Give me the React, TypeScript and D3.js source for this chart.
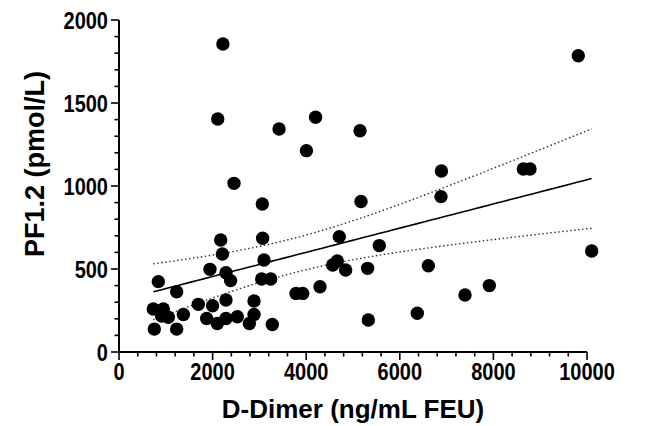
import React from "react";
import * as d3 from "d3";

const dDimer = [
  2220, 2110, 3420, 4200, 4005, 5150, 2457, 3062, 5171, 6890, 6880, 8640, 8782, 9814, 10100,
  4707, 5562, 4665, 4566, 4843, 5312, 6610, 3782, 3925, 4295, 7393, 7913, 5327, 6374,
  840, 1232, 733, 947, 911, 1054, 1375, 755, 1232, 1695, 2000, 1944, 2173, 2209, 2286, 2385,
  2286, 1873, 2100, 2286, 2528, 2785, 2885, 2885, 3276, 3069, 3098, 3049, 3241,
];
const pf12 = [
  1855, 1404, 1343, 1414, 1213, 1333, 1016, 892, 907, 1090, 936, 1102, 1102, 1785, 608,
  695, 641, 548, 524, 494, 504, 520, 353, 353, 393, 343, 400, 193, 233,
  424, 363, 259, 259, 217, 209, 226, 138, 138, 287, 279, 498, 675, 590, 478, 430,
  313, 202, 172, 202, 212, 172, 226, 307, 166, 685, 554, 440, 440,
];
const xTicks = [0, 2000, 4000, 6000, 8000, 10000];
const yTicks = [0, 500, 1000, 1500, 2000];
const xMinorStep = 400;
const yMinorStep = 100;
const xTitle = "D-Dimer (ng/mL FEU)";
const yTitle = "PF1.2 (pmol/L)";

const W = 659;
const H = 426;
const FONT = "'Liberation Sans', Arial, Helvetica, sans-serif";

export default function App() {
  const x = d3.scaleLinear().domain([0, 10000]).range([119, 587]);
  const y = d3.scaleLinear().domain([0, 2000]).range([352, 20]);

  const pts = dDimer.map((d, i) => [d, pf12[i]] as [number, number]);
  const n = pts.length;
  const mx = d3.mean(dDimer)!;
  const my = d3.mean(pf12)!;
  let sxx = 0, sxy = 0;
  pts.forEach(([a, b]) => { sxx += (a - mx) ** 2; sxy += (a - mx) * (b - my); });
  const slope = sxy / sxx;
  const intercept = my - slope * mx;
  let sse = 0;
  pts.forEach(([a, b]) => { sse += (b - (intercept + slope * a)) ** 2; });
  const s = Math.sqrt(sse / (n - 2));
  const tcrit = 2.003;
  const [x0, x1] = d3.extent(dDimer) as [number, number];
  const xs = d3.range(0, 61).map((i) => x0 + ((x1 - x0) * i) / 60);
  const fit = (v: number) => intercept + slope * v;
  const half = (v: number) => tcrit * s * Math.sqrt(1 / n + (v - mx) ** 2 / sxx);
  const line = d3.line<number[]>().x((d) => x(d[0])).y((d) => y(d[1]));
  const fitPath = line(xs.map((v) => [v, fit(v)]))!;
  const upPath = line(xs.map((v) => [v, fit(v) + half(v)]))!;
  const loPath = line(xs.map((v) => [v, fit(v) - half(v)]))!;

  const xMinor = d3.range(0, 10000 + 1, xMinorStep);
  const yMinor = d3.range(0, 2000 + 1, yMinorStep);
  const sy = 1.18;

  return (
    <svg width={W} height={H} style={{ position: "absolute", left: 0, top: 0, background: "#fff" }}>
      <rect width={W} height={H} fill="#fff" />
      <line x1={x(0)} x2={x(10000)} y1={y(0)} y2={y(0)} stroke="#000" strokeWidth={2} />
      <line x1={x(0)} x2={x(0)} y1={y(0)} y2={y(2000)} stroke="#000" strokeWidth={2} />
      {xMinor.map((v) => (
        <line key={"xm" + v} x1={x(v)} x2={x(v)} y1={y(0)} y2={y(0) + (v % 2000 === 0 ? 8 : 4.5)} stroke="#000" strokeWidth={1.6} />
      ))}
      {yMinor.map((v) => (
        <line key={"ym" + v} x1={x(0) - (v % 500 === 0 ? 8 : 4.5)} x2={x(0)} y1={y(v)} y2={y(v)} stroke="#000" strokeWidth={1.6} />
      ))}
      {xTicks.map((v) => (
        <text key={"xt" + v} transform={`translate(${x(v)}, ${y(0) + 28}) scale(1, ${sy})`} textAnchor="middle" fontFamily={FONT} fontWeight="bold" fontSize={20}>
          {v}
        </text>
      ))}
      {yTicks.map((v) => (
        <text key={"yt" + v} transform={`translate(${x(0) - 11}, ${y(v) + 8.5}) scale(1, ${sy})`} textAnchor="end" fontFamily={FONT} fontWeight="bold" fontSize={20}>
          {v}
        </text>
      ))}
      <text x={(x(0) + x(10000)) / 2} y={418} textAnchor="middle" fontFamily={FONT} fontWeight="bold" fontSize={26}>
        {xTitle}
      </text>
      <text transform={`translate(44, 164) rotate(-90)`} textAnchor="middle" fontFamily={FONT} fontWeight="bold" fontSize={27}>
        {yTitle}
      </text>
      <path d={upPath} fill="none" stroke="#333" strokeWidth={1.4} strokeDasharray="1.5,2.5" />
      <path d={loPath} fill="none" stroke="#333" strokeWidth={1.4} strokeDasharray="1.5,2.5" />
      <path d={fitPath} fill="none" stroke="#000" strokeWidth={1.6} />
      {pts.map(([a, b], i) => (
        <circle key={i} cx={x(a)} cy={y(b)} r={6.7} fill="#000" />
      ))}
    </svg>
  );
}
